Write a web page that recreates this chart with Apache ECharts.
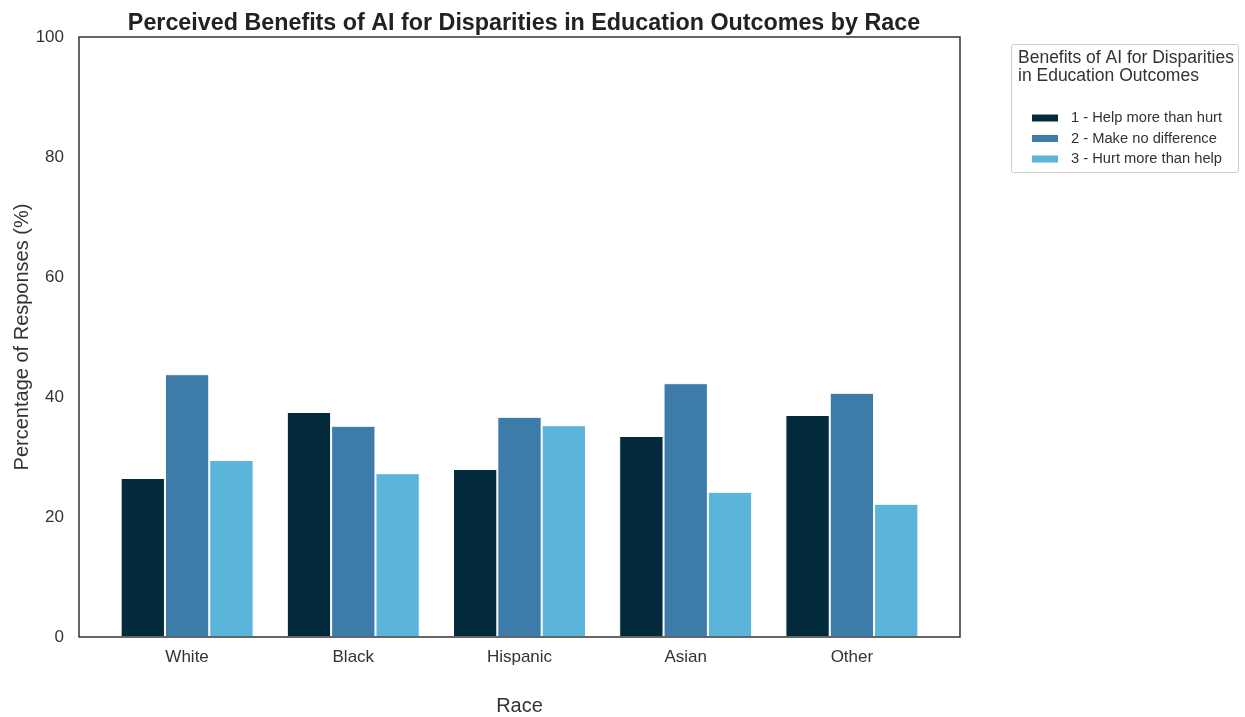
<!DOCTYPE html>
<html>
<head>
<meta charset="utf-8">
<script src="https://cdn.jsdelivr.net/npm/echarts@6/dist/echarts.min.js"></script>
<style>
html,body{margin:0;padding:0;background:#fff;}
#chart{width:1245px;height:717px;}
</style>
</head>
<body>
<div id="chart"></div>
<script>
const categories = ['White', 'Black', 'Hispanic', 'Asian', 'Other'];
const seriesNames = ['1 - Help more than hurt', '2 - Make no difference', '3 - Hurt more than help'];
const helpMore = [26.5, 37.5, 28.0, 33.5, 37.0];
const noDiff = [43.8, 35.2, 36.7, 42.3, 40.7];
const hurtMore = [29.5, 27.3, 35.3, 24.2, 22.2];
const colors = ['#022a3b', '#3d7ca8', '#5bb4d9'];
const yTicks = [0, 20, 40, 60, 80, 100];

const FONT = '"Liberation Sans", Arial, sans-serif';
const chart = echarts.init(document.getElementById('chart'));
const values = [helpMore, noDiff, hurtMore];

chart.setOption({
  animation: false,
  textStyle: {fontFamily: FONT},
  title: {
    text: 'Perceived Benefits of AI for Disparities in Education Outcomes by Race',
    left: 519, top: 7, textAlign: 'center',
    textStyle: {fontFamily: FONT, fontSize: 23.3, fontWeight: 'bold', color: '#222'}
  },
  grid: {left: 104, top: 37, width: 831, height: 600, show: false, containLabel: false, outerBoundsMode: 'none'},
  xAxis: {
    type: 'category', data: categories,
    name: 'Race', nameLocation: 'middle', nameGap: 59, nameMoveOverlap: false,
    nameTextStyle: {fontFamily: FONT, fontSize: 20, color: '#333'},
    axisLine: {show: false},
    axisTick: {show: false},
    axisLabel: {fontFamily: FONT, fontSize: 17, color: '#333', margin: 12}
  },
  yAxis: {
    type: 'value', min: 0, max: 100, interval: 20,
    name: 'Percentage of Responses (%)', nameLocation: 'middle', nameGap: 72, nameMoveOverlap: false,
    nameTextStyle: {fontFamily: FONT, fontSize: 20, color: '#333'},
    axisLine: {show: false},
    axisTick: {show: false},
    splitLine: {show: false},
    axisLabel: {fontFamily: FONT, fontSize: 17, color: '#333', margin: 40,
      formatter: v => yTicks.includes(v) ? String(v) : ''}
  },
  legend: {
    data: seriesNames,
    orient: 'vertical', left: 1030, top: 110, padding: 0,
    itemWidth: 28, itemHeight: 9, itemGap: 4.5,
    icon: 'rect',
    textStyle: {fontFamily: FONT, fontSize: 14.7, color: '#333', lineHeight: 16, padding: [0, 0, 0, 7]}
  },
  graphic: [
    {type: 'rect', shape: {x: 79, y: 37, width: 881, height: 600},
      style: {fill: 'none', stroke: '#333', lineWidth: 1.5}, z: 10, silent: true},
    {type: 'rect', shape: {x: 1011.5, y: 44.5, width: 227, height: 128, r: 2},
      style: {fill: '#fff', stroke: '#ccc', lineWidth: 1}, z: -1},
    {type: 'text', left: 1018, top: 49,
      style: {text: 'Benefits of AI for Disparities\nin Education Outcomes', font: '17.5px "Liberation Sans", Arial, sans-serif', fill: '#333', lineHeight: 18}}
  ],
  series: seriesNames.map((n, i) => ({
    name: n, type: 'bar', data: values[i],
    barGap: '0%', barCategoryGap: '20%',
    itemStyle: {color: colors[i], borderColor: '#fff', borderWidth: 1}
  }))
});
</script>
</body>
</html>
